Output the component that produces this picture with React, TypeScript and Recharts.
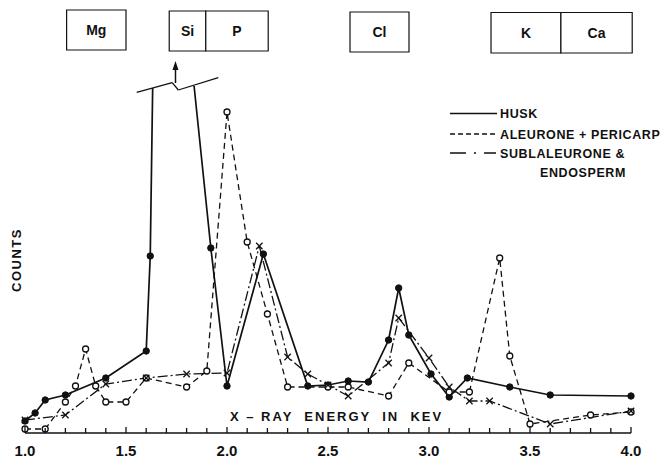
import React from "react";
import {
  LineChart,
  Line,
  XAxis,
  YAxis,
  ReferenceArea,
  ReferenceLine,
  ReferenceDot,
} from "recharts";

// energy (keV) / counts; null = break in the Si peak
const huskEnergy = [1.0, 1.05, 1.1, 1.2, 1.4, 1.6, 1.62, 1.632, 1.74, 1.837, 1.92, 2.0, 2.18, 2.4, 2.5, 2.6, 2.7, 2.8, 2.85, 2.9, 3.01, 3.1, 3.19, 3.4, 3.6, 4.0];
const huskCounts = [12, 20, 33, 38, 55, 82, 177, 345, null, 347, 185, 47, 179, 47, 48, 52, 51, 93, 145, 98, 59, 36, 55, 46, 38, 37];

const aleuroneEnergy = [1.0, 1.1, 1.2, 1.25, 1.3, 1.35, 1.4, 1.5, 1.6, 1.8, 1.9, 2.0, 2.1, 2.2, 2.3, 2.5, 2.6, 2.8, 2.9, 3.1, 3.2, 3.35, 3.4, 3.5, 3.8, 4.0];
const aleuroneCounts = [4, 4, 31, 47, 84, 47, 31, 31, 55, 46, 62, 321, 191, 119, 46, 46, 46, 37, 70, 41, 41, 175, 77, 9, 18, 21];

const subEnergy = [1.0, 1.2, 1.4, 1.6, 1.8, 2.0, 2.16, 2.3, 2.4, 2.5, 2.6, 2.8, 2.85, 3.0, 3.1, 3.2, 3.3, 3.6, 4.0];
const subCounts = [13, 18, 49, 55, 59, 60, 187, 76, 59, 48, 37, 70, 115, 75, 46, 32, 32, 9, 22];

const xTicks = [1.0, 1.1, 1.2, 1.3, 1.4, 1.5, 1.6, 1.7, 1.8, 1.9, 2.0, 2.1, 2.2, 2.3, 2.4, 2.5, 2.6, 2.7, 2.8, 2.9, 3.0, 3.1, 3.2, 3.3, 3.4, 3.5, 3.6, 3.7, 3.8, 3.9, 4.0];

// element windows along the top
const elements = ["Mg", "Si", "P", "Cl", "K", "Ca"];
const elemFrom = [1.206, 1.714, 1.895, 2.609, 3.307, 3.653];
const elemTo = [1.5, 1.895, 2.204, 2.901, 3.653, 4.006];
const elemTop = [423, 422, 422, 421, 420.5, 420.5];
const elemBottom = [383, 382, 382, 381, 380, 380];

const toRows = (xs: number[], ys: (number | null)[]) =>
  xs.map((e, i) => ({ e, c: ys[i] }));

const husk = toRows(huskEnergy, huskCounts);
const aleurone = toRows(aleuroneEnergy, aleuroneCounts);
const sub = toRows(subEnergy, subCounts);

const FONT = "'Liberation Sans', Arial, sans-serif";
const INK = "#111";

function Tick(props: any) {
  const { x, y, payload } = props;
  const v = payload.value as number;
  const major = Math.abs(v * 2 - Math.round(v * 2)) < 1e-6;
  return (
    <g>
      <line x1={x} x2={x} y1={y} y2={y - (major ? 6 : 5)} stroke={INK} strokeWidth={1.3} />
      {major && (
        <text x={x} y={y + 23} textAnchor="middle" fontFamily={FONT} fontWeight={700} fontSize={15} fill={INK}>
          {v.toFixed(1)}
        </text>
      )}
    </g>
  );
}

function HuskDot(props: any) {
  const { cx, cy, payload, index } = props;
  if (payload.c == null || payload.c > 300) return <g key={`h${index}`} />;
  return <circle key={`h${index}`} cx={cx} cy={cy} r={3.2} fill={INK} stroke={INK} />;
}

function OpenDot(props: any) {
  const { cx, cy, index } = props;
  return <circle key={`a${index}`} cx={cx} cy={cy} r={3} fill="#fff" stroke={INK} strokeWidth={1.3} />;
}

function CrossDot(props: any) {
  const { cx, cy, index } = props;
  const s = 3.2;
  return (
    <g key={`s${index}`}>
      <line x1={cx - s} y1={cy - s} x2={cx + s} y2={cy + s} stroke={INK} strokeWidth={1.3} />
      <line x1={cx - s} y1={cy + s} x2={cx + s} y2={cy - s} stroke={INK} strokeWidth={1.3} />
    </g>
  );
}

function ArrowHead(props: any) {
  const { cx, cy } = props;
  return <polygon points={`${cx},${cy - 6} ${cx - 3},${cy + 3} ${cx + 3},${cy + 3}`} fill={INK} />;
}

export default function App() {
  return (
    <div style={{ position: "absolute", left: 0, top: 0, width: 666, height: 461, background: "#fff" }}>
      <LineChart width={666} height={461} margin={{ top: 10, right: 35, bottom: 0, left: 25 }}>
        <XAxis
          type="number"
          dataKey="e"
          domain={[1, 4]}
          ticks={xTicks}
          interval={0}
          height={28}
          tickSize={0}
          tickMargin={0}
          tick={<Tick />}
          axisLine={{ stroke: INK, strokeWidth: 1.5 }}
          allowDuplicatedCategory={false}
        />
        <YAxis type="number" domain={[0, 423]} hide allowDataOverflow />

        {elements.map((el, i) => (
          <ReferenceArea
            key={el}
            x1={elemFrom[i]}
            x2={elemTo[i]}
            y1={elemBottom[i]}
            y2={elemTop[i]}
            ifOverflow="visible"
            fill="#fff"
            fillOpacity={1}
            stroke={INK}
            strokeWidth={1.2}
            label={{ value: el, position: "center", fontFamily: FONT, fontWeight: 700, fontSize: 14, fill: INK }}
          />
        ))}

        {/* break mark on the truncated Si peak */}
        <ReferenceLine segment={[{ x: 1.553, y: 340.7 }, { x: 1.729, y: 350.3 }]} stroke={INK} strokeWidth={1.3} ifOverflow="visible" />
        <ReferenceLine segment={[{ x: 1.729, y: 350.3 }, { x: 1.759, y: 343 }]} stroke={INK} strokeWidth={1.3} ifOverflow="visible" />
        <ReferenceLine segment={[{ x: 1.759, y: 343 }, { x: 1.957, y: 355.3 }]} stroke={INK} strokeWidth={1.3} ifOverflow="visible" />
        <ReferenceLine segment={[{ x: 1.745, y: 350 }, { x: 1.745, y: 366 }]} stroke={INK} strokeWidth={1.5} ifOverflow="visible" />
        <ReferenceDot x={1.745} y={366} ifOverflow="visible" shape={<ArrowHead />} />

        <Line
          data={husk}
          dataKey="c"
          type="linear"
          stroke={INK}
          strokeWidth={1.7}
          dot={<HuskDot />}
          connectNulls={false}
          isAnimationActive={false}
        />
        <Line
          data={aleurone}
          dataKey="c"
          type="linear"
          stroke={INK}
          strokeWidth={1.3}
          strokeDasharray="6 4"
          dot={<OpenDot />}
          isAnimationActive={false}
        />
        <Line
          data={sub}
          dataKey="c"
          type="linear"
          stroke={INK}
          strokeWidth={1.3}
          strokeDasharray="10 3 2 3"
          dot={<CrossDot />}
          isAnimationActive={false}
        />
      </LineChart>

      <svg width={666} height={461} style={{ position: "absolute", left: 0, top: 0, pointerEvents: "none" }}>
        <text
          transform="translate(21 260) rotate(-90)"
          textAnchor="middle"
          fontFamily={FONT}
          fontWeight={700}
          fontSize={13}
          letterSpacing={1.5}
          fill={INK}
        >
          COUNTS
        </text>
        <text x={230} y={421} fontFamily={FONT} fontWeight={700} fontSize={13} letterSpacing={2} fill={INK} style={{ whiteSpace: "pre" }}>
          {"X – RAY  ENERGY  IN  KEV"}
        </text>

        <g fontFamily={FONT} fontWeight={700} fontSize={12.5} letterSpacing={0.6} fill={INK}>
          <line x1={450} x2={497} y1={113.5} y2={113.5} stroke={INK} strokeWidth={1.6} />
          <text x={500} y={118}>HUSK</text>
          <line x1={450} x2={497} y1={134} y2={134} stroke={INK} strokeWidth={1.3} strokeDasharray="5 3" />
          <text x={500} y={138.5}>ALEURONE + PERICARP</text>
          <line x1={450} x2={496} y1={153} y2={153} stroke={INK} strokeWidth={1.3} strokeDasharray="16 8 2 8" />
          <text x={500} y={157.5}>SUBLALEURONE  &amp;</text>
          <text x={540} y={176.5}>ENDOSPERM</text>
        </g>
      </svg>
    </div>
  );
}
